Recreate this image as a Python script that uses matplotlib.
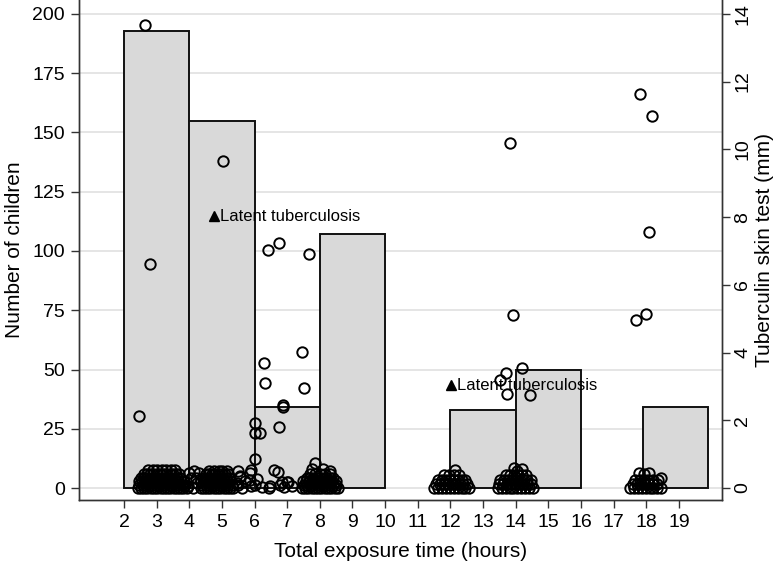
import matplotlib
matplotlib.use("Agg")
import matplotlib.pyplot as plt

plt.rcParams['font.family'] = ['Liberation Sans', 'DejaVu Sans']

# Histogram bars: left edge, right edge, number of children
bar_left = [2, 4, 6, 8, 12, 14, 17.9]
bar_right = [4, 6, 8, 10, 14, 16, 19.9]
bar_count = [193, 155, 34, 107, 33, 50, 34]

# Tuberculin skin test (mm) per child vs exposure time (hours) - isolated points
outlier_hours = [2.64, 2.46, 2.80, 5.02, 6.42, 6.75, 7.68, 7.45, 6.29, 6.32, 7.51, 6.87,
                 13.82, 13.91, 14.20, 13.69, 13.51, 13.74, 14.43,
                 17.81, 18.17, 18.07, 17.67, 18.00,
                 5.56, 5.50, 5.87, 6.07, 6.02, 6.22, 6.48, 6.43, 6.79, 6.89, 6.99,
                 6.59, 6.73, 5.90, 6.00, 6.02, 6.17, 6.02, 6.76, 6.87, 6.84, 7.03, 7.15,
                 3.95, 4.05, 4.15, 4.25, 4.10, 4.30, 3.98, 4.20,
                 5.45, 5.55, 5.70, 5.85, 5.60, 5.90, 5.50,
                 7.86, 8.10, 8.30, 7.75, 12.15, 13.95, 14.20, 14.05,
                 17.78, 18.08, 18.44, 17.93]
outlier_mm = [13.67, 2.13, 6.60, 9.66, 7.03, 7.22, 6.91, 4.02, 3.69, 3.10, 2.95, 2.45,
              10.18, 5.10, 3.54, 3.40, 3.19, 2.78, 2.75,
              11.62, 10.99, 7.56, 4.96, 5.14,
              0.33, 0.09, 0.24, 0.27, 0.09, 0.04, 0.06, 0.00, 0.09, 0.03, 0.19,
              0.53, 0.48, 0.53, 0.85, 1.62, 1.63, 1.91, 1.81, 2.38, 0.19, 0.19, 0.05,
              0.05, 0.30, 0.50, 0.15, 0.00, 0.45, 0.45, 0.30,
              0.15, 0.35, 0.20, 0.45, 0.00, 0.05, 0.50,
              0.74, 0.55, 0.50, 0.56, 0.53, 0.60, 0.57, 0.50,
              0.43, 0.43, 0.31, 0.40]

# Dense clusters near 0 mm: (mm, [hours ...]) rows
cluster_rows = [
    # 2-4 hours
    (0.00, [2.42, 2.52, 2.62, 2.72, 2.82, 2.92, 3.02, 3.12, 3.22, 3.32, 3.42, 3.52, 3.62, 3.72, 3.82, 3.92]),
    (0.10, [2.47, 2.57, 2.67, 2.77, 2.87, 2.97, 3.07, 3.17, 3.27, 3.37, 3.47, 3.57, 3.67, 3.77, 3.87]),
    (0.20, [2.45, 2.55, 2.65, 2.75, 2.85, 2.95, 3.05, 3.15, 3.25, 3.35, 3.45, 3.55, 3.65, 3.75, 3.85]),
    (0.30, [2.52, 2.62, 2.72, 2.82, 2.92, 3.02, 3.12, 3.22, 3.32, 3.42, 3.52, 3.62, 3.72]),
    (0.40, [2.60, 2.70, 2.80, 2.90, 3.00, 3.10, 3.20, 3.30, 3.40, 3.50, 3.60, 3.70]),
    (0.52, [2.75, 2.90, 3.00, 3.15, 3.30, 3.45, 3.55]),
    # 4-5.4 hours
    (0.00, [4.35, 4.45, 4.55, 4.65, 4.75, 4.85, 4.95, 5.05, 5.15, 5.25, 5.35]),
    (0.10, [4.40, 4.50, 4.60, 4.70, 4.80, 4.90, 5.00, 5.10, 5.20, 5.30]),
    (0.20, [4.35, 4.45, 4.55, 4.65, 4.75, 4.85, 4.95, 5.05, 5.15, 5.25]),
    (0.30, [4.42, 4.52, 4.62, 4.72, 4.82, 4.92, 5.02, 5.12, 5.22]),
    (0.40, [4.50, 4.60, 4.70, 4.80, 4.90, 5.00, 5.10, 5.20]),
    (0.50, [4.60, 4.75, 4.90, 5.00, 5.15]),
    # around 8 hours
    (0.00, [7.45, 7.55, 7.65, 7.75, 7.85, 7.95, 8.05, 8.15, 8.25, 8.35, 8.45, 8.55]),
    (0.10, [7.50, 7.60, 7.70, 7.80, 7.90, 8.00, 8.10, 8.20, 8.30, 8.40, 8.50]),
    (0.20, [7.48, 7.58, 7.68, 7.78, 7.88, 7.98, 8.08, 8.18, 8.28, 8.38, 8.48]),
    (0.30, [7.60, 7.70, 7.80, 7.90, 8.00, 8.10, 8.20, 8.30, 8.40]),
    (0.42, [7.70, 7.85, 8.00, 8.15, 8.30]),
    # around 12 hours
    (0.00, [11.50, 11.62, 11.74, 11.86, 11.98, 12.10, 12.22, 12.34, 12.46, 12.56]),
    (0.12, [11.56, 11.68, 11.80, 11.92, 12.04, 12.16, 12.28, 12.40, 12.52]),
    (0.25, [11.62, 11.74, 11.86, 11.98, 12.10, 12.22, 12.34, 12.46]),
    (0.38, [11.80, 11.95, 12.10, 12.25]),
    # around 14 hours
    (0.00, [13.45, 13.57, 13.69, 13.81, 13.93, 14.05, 14.17, 14.29, 14.41, 14.53]),
    (0.12, [13.50, 13.62, 13.74, 13.86, 13.98, 14.10, 14.22, 14.34, 14.46]),
    (0.25, [13.52, 13.64, 13.76, 13.88, 14.00, 14.12, 14.24, 14.36, 14.48]),
    (0.38, [13.70, 13.82, 13.94, 14.06, 14.18, 14.30]),
    # around 18 hours
    (0.00, [17.50, 17.62, 17.74, 17.86, 17.98, 18.10, 18.22, 18.34, 18.46]),
    (0.12, [17.60, 17.72, 17.84, 17.96, 18.08, 18.20, 18.32]),
    (0.25, [17.66, 17.80, 17.94, 18.06, 18.20, 18.36]),
]

# Latent tuberculosis markers
latent_hours = [4.77, 12.03]
latent_mm = [8.03, 3.04]
latent_label = "Latent tuberculosis"

x_ticks = [2, 3, 4, 5, 6, 7, 8, 9, 10, 11, 12, 13, 14, 15, 16, 17, 18, 19]
left_ticks = [0, 25, 50, 75, 100, 125, 150, 175, 200]
right_ticks = [0, 2, 4, 6, 8, 10, 12, 14]

TICK_FS = 14
LABEL_FS = 15

fig = plt.figure(figsize=(7.79, 5.66), dpi=100)
ax = fig.add_axes([79/779, 66/566, (721.7-79)/779, 500/566])
ax.set_xlim(0.622, 20.31)
ax.set_ylim(-5.06, 205.9)

for t in left_ticks:
    ax.axhline(t, color='#e3e3e3', lw=1.3, zorder=0)

widths = [r - l for l, r in zip(bar_left, bar_right)]
ax.bar(bar_left, bar_count, width=widths, align='edge', color='#d9d9d9',
       edgecolor='#111111', linewidth=1.4, zorder=1)

ax.set_xticks(x_ticks)
ax.set_yticks(left_ticks)
ax.tick_params(axis='both', labelsize=TICK_FS, length=6, width=1, color='#333333',
               direction='out', pad=4)
ax.set_xlabel("Total exposure time (hours)", fontsize=LABEL_FS, labelpad=8)
ax.set_ylabel("Number of children", fontsize=LABEL_FS, labelpad=6)
ax.spines['top'].set_visible(False)
for s in ['left', 'right', 'bottom']:
    ax.spines[s].set_color('#333333')
    ax.spines[s].set_linewidth(1.0)

ax2 = ax.twinx()
ax2.set_ylim(-0.354, 14.41)
ax2.set_yticks(right_ticks)
ax2.tick_params(axis='y', labelsize=TICK_FS, length=6, width=1, color='#333333',
                direction='out', pad=3)
for lbl in ax2.get_yticklabels():
    lbl.set_rotation(90)
    lbl.set_va('center')
ax2.set_ylabel("Tuberculin skin test (mm)", fontsize=LABEL_FS, labelpad=3)
ax2.spines['top'].set_visible(False)
for s in ['left', 'right', 'bottom']:
    ax2.spines[s].set_color('#333333')
    ax2.spines[s].set_linewidth(1.0)

mk = dict(marker='o', linestyle='none', markersize=7.5, markerfacecolor='none',
          markeredgecolor='black', markeredgewidth=1.4, zorder=3)
ax2.plot(outlier_hours, outlier_mm, **mk)
for mm, hours in cluster_rows:
    ax2.plot(hours, [mm] * len(hours), **mk)

ax2.plot(latent_hours, latent_mm, marker='^', linestyle='none', markersize=7.5,
         color='black', zorder=4)
for hx, my in zip(latent_hours, latent_mm):
    ax2.annotate(latent_label, (hx, my), xytext=(4, 0), textcoords='offset points',
                 va='center', ha='left', fontsize=12, zorder=4)

fig.savefig("out.png", dpi=100)
